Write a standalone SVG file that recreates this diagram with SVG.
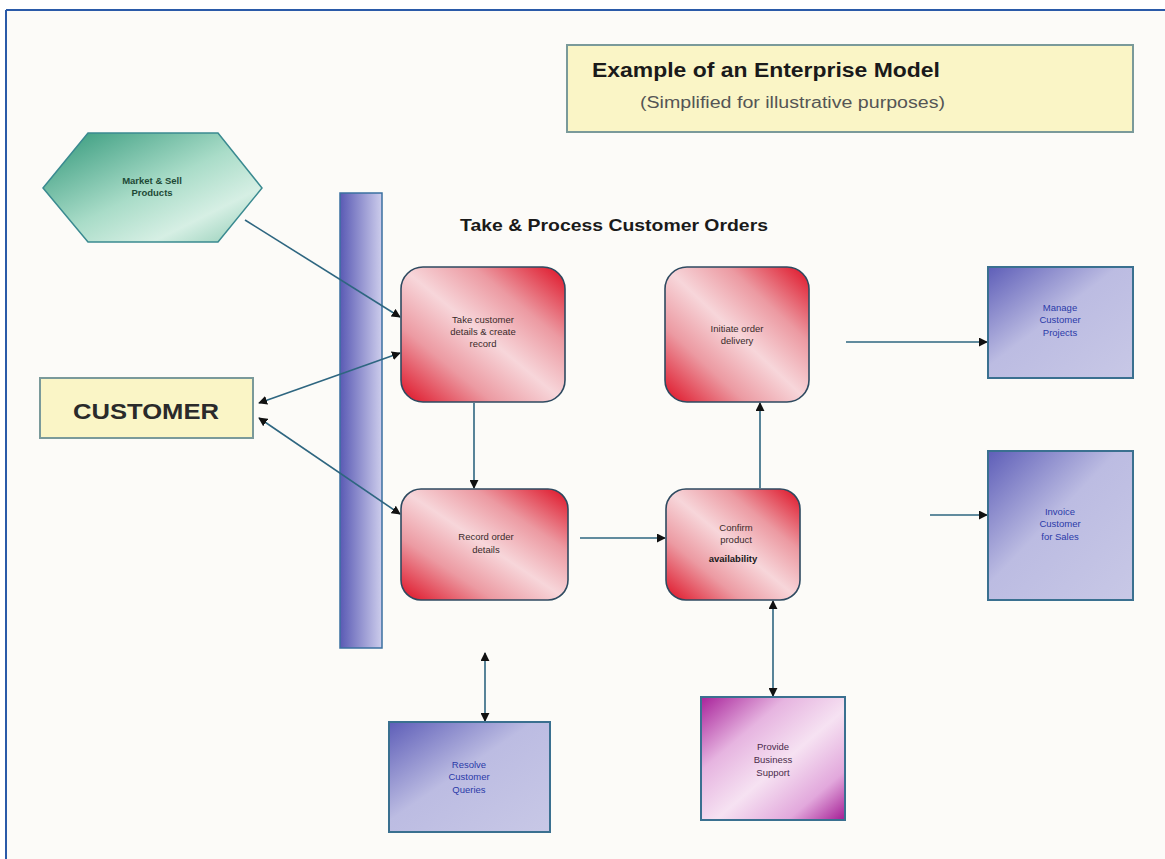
<svg xmlns="http://www.w3.org/2000/svg" width="1165" height="859" viewBox="0 0 1165 859">
<defs>
<linearGradient id="gRed" x1="1" y1="0" x2="0" y2="1">
<stop offset="0" stop-color="#de1024"/>
<stop offset="0.28" stop-color="#ec9aa2"/>
<stop offset="0.5" stop-color="#f7d6da"/>
<stop offset="0.72" stop-color="#ec9aa2"/>
<stop offset="1" stop-color="#de1024"/>
</linearGradient>
<linearGradient id="gBlue" x1="0" y1="0" x2="1" y2="1">
<stop offset="0" stop-color="#5e5eb8"/>
<stop offset="0.45" stop-color="#bcbce2"/>
<stop offset="1" stop-color="#c8c8e6"/>
</linearGradient>
<linearGradient id="gMag" x1="0" y1="0" x2="1" y2="1">
<stop offset="0" stop-color="#a8229a"/>
<stop offset="0.3" stop-color="#e6b4e0"/>
<stop offset="0.55" stop-color="#f6e2f2"/>
<stop offset="0.8" stop-color="#e2a8dc"/>
<stop offset="1" stop-color="#a41c94"/>
</linearGradient>
<linearGradient id="gBar" x1="0" y1="0" x2="1" y2="0">
<stop offset="0" stop-color="#5a5ab4"/>
<stop offset="1" stop-color="#cdcdec"/>
</linearGradient>
<linearGradient id="gHex" x1="0" y1="0" x2="1" y2="1">
<stop offset="0" stop-color="#2f9678"/>
<stop offset="0.5" stop-color="#a9dcc8"/>
<stop offset="0.75" stop-color="#d6efe4"/>
<stop offset="1" stop-color="#8ccab2"/>
</linearGradient>
<marker id="arr" viewBox="0 0 10 10" refX="9" refY="5" markerWidth="9" markerHeight="9" orient="auto-start-reverse" markerUnits="userSpaceOnUse">
<path d="M0,0 L10,5 L0,10 z" fill="#111"/>
</marker>
<style>
.red{fill:url(#gRed);stroke:#2e4a60;stroke-width:1.6}
.blue{fill:url(#gBlue);stroke:#3a7090;stroke-width:2}
.mag{fill:url(#gMag);stroke:#3a7090;stroke-width:2}
.t{font-family:"Liberation Sans",Arial,sans-serif;font-size:9.5px;text-anchor:middle}
.tr{fill:#3a2a2a}
.tb{fill:#2a3aa8}
.tm{fill:#4a2a4a}
.c line{stroke:#2e6680;stroke-width:1.6;fill:none}
</style>
</defs>
<rect x="0" y="0" width="1165" height="859" fill="#ffffff"/>
<rect x="6" y="10" width="1159" height="849" fill="#fcfbf8"/>
<line x1="6" y1="10" x2="1165" y2="10" stroke="#2a5aa8" stroke-width="2"/>
<line x1="6" y1="10" x2="6" y2="859" stroke="#2a5aa8" stroke-width="2"/>

<g id="title">
<rect x="567" y="45" width="566" height="87" fill="#faf5c6" stroke="#7a9a9a" stroke-width="2"/>
<text x="592" y="77" font-family="'Liberation Sans',Arial,sans-serif" font-size="20" font-weight="bold" fill="#1a1a1a" textLength="348" lengthAdjust="spacingAndGlyphs">Example of an Enterprise Model</text>
<text x="640" y="108" font-family="'Liberation Sans',Arial,sans-serif" font-size="16" fill="#555" textLength="305" lengthAdjust="spacingAndGlyphs">(Simplified for illustrative purposes)</text>
</g>

<g id="bar">
<rect x="340" y="193" width="42" height="455" fill="url(#gBar)" stroke="#3a70a0" stroke-width="1.5"/>
</g>

<g id="section-label">
<text x="460" y="231" font-family="'Liberation Sans',Arial,sans-serif" font-size="17" font-weight="bold" fill="#1a1a1a" textLength="308" lengthAdjust="spacingAndGlyphs">Take &amp; Process Customer Orders</text>
</g>

<g class="c" id="connectors">
<line x1="245" y1="220" x2="400" y2="317" marker-end="url(#arr)"/>
<line x1="400" y1="353" x2="259" y2="403" marker-start="url(#arr)" marker-end="url(#arr)"/>
<line x1="259" y1="418" x2="400" y2="514" marker-start="url(#arr)" marker-end="url(#arr)"/>
<line x1="474" y1="403" x2="474" y2="488" marker-end="url(#arr)"/>
<line x1="580" y1="538" x2="665" y2="538" marker-end="url(#arr)"/>
<line x1="760" y1="488" x2="760" y2="403" marker-end="url(#arr)"/>
<line x1="846" y1="342" x2="987" y2="342" marker-end="url(#arr)"/>
<line x1="930" y1="515" x2="987" y2="515" marker-end="url(#arr)"/>
<line x1="485" y1="653" x2="485" y2="721" marker-start="url(#arr)" marker-end="url(#arr)"/>
<line x1="773" y1="601" x2="773" y2="696" marker-start="url(#arr)" marker-end="url(#arr)"/>
</g>

<g id="market">
<polygon points="43,188 88,133 218,133 262,188 218,242 88,242" fill="url(#gHex)" stroke="#3a8a90" stroke-width="1.5"/>
<text class="t" x="152" y="184" font-size="8" font-weight="bold" fill="#1e4a36">Market &amp; Sell</text>
<text class="t" x="152" y="196" font-size="8" font-weight="bold" fill="#1e4a36">Products</text>
</g>

<g id="customer">
<rect x="40" y="378" width="213" height="60" fill="#faf5c6" stroke="#7a9a9a" stroke-width="2"/>
<text x="73" y="419" font-family="'Liberation Sans',Arial,sans-serif" font-size="22" font-weight="bold" fill="#2a2a2a" textLength="146" lengthAdjust="spacingAndGlyphs">CUSTOMER</text>
</g>

<g id="take-details">
<rect class="red" x="401" y="267" width="164" height="135" rx="22"/>
<text class="t tr" x="483" y="323">Take customer</text>
<text class="t tr" x="483" y="335">details &amp; create</text>
<text class="t tr" x="483" y="347">record</text>
</g>

<g id="initiate-delivery">
<rect class="red" x="665" y="267" width="144" height="135" rx="22"/>
<text class="t tr" x="737" y="332">Initiate order</text>
<text class="t tr" x="737" y="344">delivery</text>
</g>

<g id="record-order">
<rect class="red" x="401" y="489" width="167" height="111" rx="20"/>
<text class="t tr" x="486" y="540">Record order</text>
<text class="t tr" x="486" y="553">details</text>
</g>

<g id="confirm-availability">
<rect class="red" x="666" y="489" width="134" height="111" rx="20"/>
<text class="t tr" x="736" y="531">Confirm</text>
<text class="t tr" x="736" y="543">product</text>
<text class="t" x="733" y="562" font-size="13" font-weight="bold" fill="#1a1a1a">availability</text>
</g>

<g id="manage-projects">
<rect class="blue" x="988" y="267" width="145" height="111"/>
<text class="t tb" x="1060" y="311">Manage</text>
<text class="t tb" x="1060" y="323">Customer</text>
<text class="t tb" x="1060" y="336">Projects</text>
</g>

<g id="invoice">
<rect class="blue" x="988" y="451" width="145" height="149"/>
<text class="t tb" x="1060" y="515">Invoice</text>
<text class="t tb" x="1060" y="527">Customer</text>
<text class="t tb" x="1060" y="540">for Sales</text>
</g>

<g id="resolve-queries">
<rect class="blue" x="389" y="722" width="161" height="110"/>
<text class="t tb" x="469" y="768">Resolve</text>
<text class="t tb" x="469" y="780">Customer</text>
<text class="t tb" x="469" y="793">Queries</text>
</g>

<g id="business-support">
<rect class="mag" x="701" y="697" width="144" height="123"/>
<text class="t tm" x="773" y="750">Provide</text>
<text class="t tm" x="773" y="763">Business</text>
<text class="t tm" x="773" y="776">Support</text>
</g>
</svg>
